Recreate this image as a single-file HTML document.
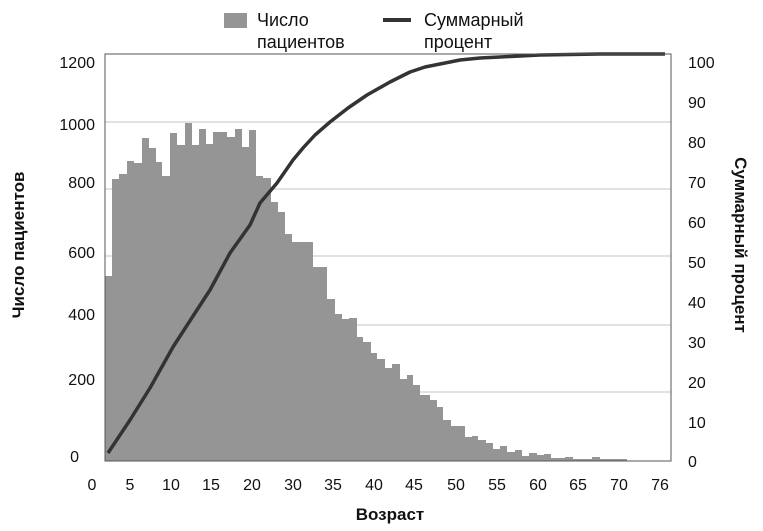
<!DOCTYPE html>
<html><head><meta charset="utf-8"><style>
body{margin:0;background:#fff}
svg{display:block}
text{font-family:"Liberation Sans","DejaVu Sans",sans-serif;fill:#111}
</style></head><body>
<svg width="763" height="531" viewBox="0 0 763 531" xmlns="http://www.w3.org/2000/svg">
<rect width="763" height="531" fill="#fff"/>
<g stroke="#c4c4c4" stroke-width="1">
<line x1="105" y1="122" x2="671" y2="122"/>
<line x1="105" y1="189" x2="671" y2="189"/>
<line x1="105" y1="256" x2="671" y2="256"/>
<line x1="105" y1="325" x2="671" y2="325"/>
<line x1="105" y1="392" x2="671" y2="392"/>
</g>
<path fill="#959595" d="M105,461 V276 H112 V179 H119 V174 H127 V161 H134 V163 H142 V138 H149 V148 H156 V162 H162 V176 H170 V133 H177 V145 H185 V123 H192 V145 H199 V129 H206 V144 H213 V132 H220 V132 H227 V137 H235 V129 H242 V147 H249 V130 H256 V176 H263 V178 H271 V202 H278 V212 H285 V234 H292 V242 H313 V267 H327 V299 H335 V314 H342 V319 H349 V318 H357 V337 H363 V342 H371 V353 H377 V359 H385 V368 H392 V364 H400 V379 H407 V375 H413 V385 H420 V395 H430 V400 H437 V407 H443 V420 H451 V426 H465 V437 H472 V436 H478 V440 H486 V443 H493 V449 H500 V446 H507 V452 H515 V450 H522 V456 H529 V453 H537 V455 H544 V454 H551 V458 H565 V457 H573 V459 H592 V457 H600 V459 H627 V461 Z"/>
<polyline fill="none" stroke="#333" stroke-width="3.5" stroke-linejoin="round" points="108,453 130,420 150,388 173,347 195,313 210,290 230,253 250,225 260,203 277,183 293,160 303,148 315,135 330,122 348,108 367,95 390,82 410,72 425,67 440,64 460,60 480,58 500,57 540,55 600,54 665,54"/>
<rect x="105" y="54" width="566" height="407" fill="none" stroke="#555" stroke-width="1"/>
<g font-size="16" text-anchor="end">
<text x="95" y="68">1200</text><text x="95" y="130">1000</text><text x="95" y="188">800</text>
<text x="95" y="258">600</text><text x="95" y="320">400</text><text x="95" y="385">200</text><text x="79" y="462">0</text>
</g>
<g font-size="16" text-anchor="start">
<text x="688" y="68">100</text><text x="688" y="108">90</text><text x="688" y="148">80</text><text x="688" y="188">70</text>
<text x="688" y="228">60</text><text x="688" y="268">50</text><text x="688" y="308">40</text><text x="688" y="348">30</text>
<text x="688" y="388">20</text><text x="688" y="428">10</text><text x="688" y="467">0</text>
</g>
<g font-size="16" text-anchor="middle">
<text x="92" y="490">0</text><text x="130" y="490">5</text><text x="171" y="490">10</text><text x="211" y="490">15</text>
<text x="252" y="490">20</text><text x="293" y="490">30</text><text x="333" y="490">35</text><text x="374" y="490">40</text>
<text x="414" y="490">45</text><text x="456" y="490">50</text><text x="497" y="490">55</text><text x="538" y="490">60</text>
<text x="578" y="490">65</text><text x="619" y="490">70</text><text x="660" y="490">76</text>
</g>
<text x="390" y="520" font-size="17" font-weight="bold" text-anchor="middle">Возраст</text>
<text transform="translate(24,245) rotate(-90)" font-size="17" font-weight="bold" text-anchor="middle">Число пациентов</text>
<text transform="translate(735,245) rotate(90)" font-size="17" font-weight="bold" text-anchor="middle">Суммарный процент</text>
<rect x="224" y="13" width="23" height="15" fill="#959595"/>
<text x="257" y="26" font-size="18">Число</text>
<text x="257" y="48" font-size="18">пациентов</text>
<line x1="383" y1="20" x2="411" y2="20" stroke="#333" stroke-width="4"/>
<text x="424" y="26" font-size="18">Суммарный</text>
<text x="424" y="48" font-size="18">процент</text>
</svg>
</body></html>
